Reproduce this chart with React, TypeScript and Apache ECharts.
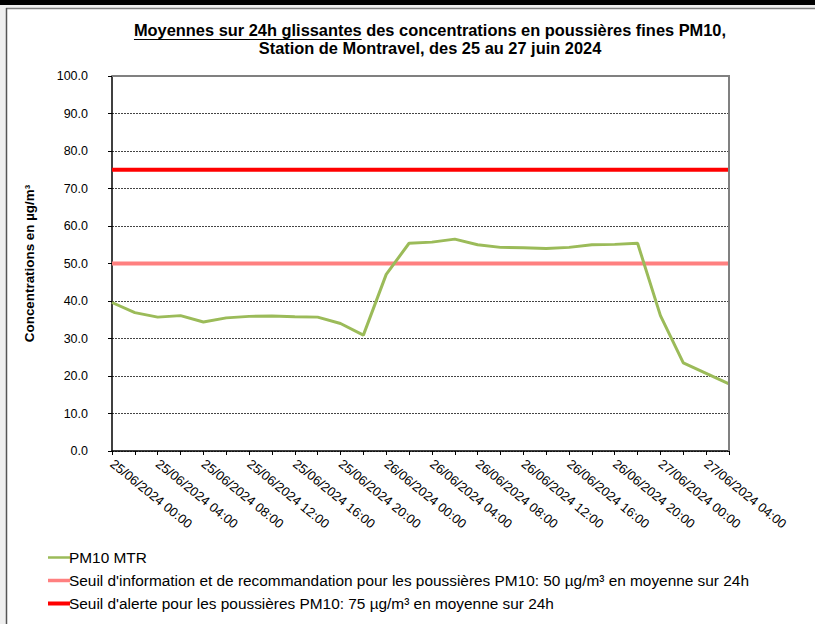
import React, { useEffect, useRef } from "react";
import * as echarts from "echarts";

const categories: string[] = [
  "25/06/2024 00:00", "25/06/2024 02:00", "25/06/2024 04:00", "25/06/2024 06:00",
  "25/06/2024 08:00", "25/06/2024 10:00", "25/06/2024 12:00", "25/06/2024 14:00",
  "25/06/2024 16:00", "25/06/2024 18:00", "25/06/2024 20:00", "25/06/2024 22:00",
  "26/06/2024 00:00", "26/06/2024 02:00", "26/06/2024 04:00", "26/06/2024 06:00",
  "26/06/2024 08:00", "26/06/2024 10:00", "26/06/2024 12:00", "26/06/2024 14:00",
  "26/06/2024 16:00", "26/06/2024 18:00", "26/06/2024 20:00", "26/06/2024 22:00",
  "27/06/2024 00:00", "27/06/2024 02:00", "27/06/2024 04:00", "27/06/2024 06:00",
];

const pm10: number[] = [
  39.6, 36.9, 35.7, 36.1, 34.4, 35.5, 35.9, 36.0, 35.8, 35.7, 34.0, 30.9,
  47.1, 55.4, 55.7, 56.5, 55.0, 54.3, 54.2, 54.0, 54.3, 55.0, 55.1, 55.4,
  36.1, 23.5, 20.7, 17.9,
];

const infoThreshold = 50;
const alertThreshold = 75;

const names = [
  "PM10 MTR",
  "Seuil d'information et de recommandation pour les poussières PM10: 50 µg/m³ en moyenne sur 24h",
  "Seuil d'alerte pour les poussières PM10: 75 µg/m³ en moyenne sur 24h",
];

const titleLine1 = "Moyennes sur 24h glissantes des concentrations en poussières fines PM10,";
const titleUnderlined = "Moyennes sur 24h glissantes";
const titleLine2 = "Station de Montravel, des 25 au 27 juin 2024";
const yAxisTitle = "Concentrations en µg/m³";

const FONT = '"Liberation Sans", Arial, sans-serif';

function measure(text: string, font: string): number {
  const c = document.createElement("canvas").getContext("2d");
  if (!c) return text.length * 8;
  c.font = font;
  return c.measureText(text).width;
}

export default function App() {
  const ref = useRef<HTMLDivElement>(null);
  useEffect(() => {
    if (!ref.current) return;
    const chart = echarts.init(ref.current, null, { renderer: "svg" });
    const titleSize = 16.4;
    const tFont = `bold ${titleSize}px ${FONT}`;
    const w1 = measure(titleLine1, tFont);
    const wu = measure(titleUnderlined, tFont);
    const cx = 430;
    const ulStart = cx - w1 / 2;

    const option: echarts.EChartsOption = {
      animation: false,
      backgroundColor: "#ffffff",
      textStyle: { fontFamily: FONT },
      grid: { left: 112, right: 86, top: 76, bottom: 173, containLabel: false },
      graphic: [
        { type: "rect", shape: { x: 0, y: 0, width: 815, height: 5 }, style: { fill: "#000" }, silent: true },
        { type: "rect", shape: { x: 0, y: 5, width: 815, height: 3 }, style: { fill: "#efefef" }, silent: true },
        { type: "rect", shape: { x: 0, y: 5, width: 6, height: 619 }, style: { fill: "#efefef" }, silent: true },
        { type: "line", shape: { x1: 6, y1: 8.5, x2: 815, y2: 8.5 }, style: { stroke: "#7f7f7f", lineWidth: 1.5 }, silent: true },
        { type: "line", shape: { x1: 6.5, y1: 8, x2: 6.5, y2: 624 }, style: { stroke: "#555", lineWidth: 1.5 }, silent: true },
        {
          type: "text", x: cx, y: 30,
          style: { text: titleLine1, font: tFont, fill: "#000", align: "center", verticalAlign: "middle" },
        },
        {
          type: "text", x: cx, y: 47.5,
          style: { text: titleLine2, font: tFont, fill: "#000", align: "center", verticalAlign: "middle" },
        },
        {
          type: "line", shape: { x1: ulStart, y1: 39.5, x2: ulStart + wu, y2: 39.5 },
          style: { stroke: "#000", lineWidth: 1.2 },
        },
        { type: "line", shape: { x1: 112, y1: 76, x2: 729, y2: 76 }, style: { stroke: "#808080", lineWidth: 2 }, z: 10, silent: true },
        { type: "line", shape: { x1: 729, y1: 75, x2: 729, y2: 451 }, style: { stroke: "#808080", lineWidth: 2 }, z: 10, silent: true },
      ],
      legend: {
        orient: "vertical",
        left: 43,
        top: 545,
        itemGap: 8,
        itemWidth: 22,
        itemHeight: 16,
        textStyle: { fontSize: 15.4, color: "#000", fontFamily: FONT, padding: [0, 0, 0, -6] },
        data: [
          { name: names[0], icon: "path://M0,7 L22,7 L22,9.5 L0,9.5 Z" },
          { name: names[1], icon: "path://M0,6.5 L22,6.5 L22,10 L0,10 Z" },
          { name: names[2], icon: "path://M0,6 L22,6 L22,10 L0,10 Z" },
        ],
      },
      xAxis: {
        type: "category",
        data: categories,
        boundaryGap: false,
        axisLine: { lineStyle: { color: "#000", width: 1.5 } },
        axisTick: { show: true, interval: 0, length: 4, lineStyle: { color: "#000" } },
        axisLabel: {
          interval: 1,
          rotate: -39,
          fontSize: 13,
          color: "#000",
          fontFamily: FONT,
          margin: 11,
        },
        splitLine: { show: false },
      },
      yAxis: {
        type: "value",
        min: 0,
        max: 100,
        interval: 10,
        name: yAxisTitle,
        nameLocation: "middle",
        nameGap: 76,
        nameRotate: 90,
        nameTextStyle: { fontSize: 13.4, fontWeight: "bold", color: "#000", fontFamily: FONT },
        axisLine: { show: true, lineStyle: { color: "#000", width: 1.5 } },
        axisTick: { show: true, length: 4, lineStyle: { color: "#000" } },
        axisLabel: {
          fontSize: 12.5,
          color: "#000",
          fontFamily: FONT,
          margin: 24,
          formatter: (v: number) => v.toFixed(1),
        },
        splitLine: { show: true, lineStyle: { color: "#444", type: [2, 1], width: 1 } },
      },
      series: [
        {
          name: names[1],
          type: "line",
          data: categories.map(() => infoThreshold),
          symbol: "none",
          lineStyle: { color: "#FF8080", width: 4 },
          itemStyle: { color: "#FF8080" },
          z: 3,
        },
        {
          name: names[2],
          type: "line",
          data: categories.map(() => alertThreshold),
          symbol: "none",
          lineStyle: { color: "#FF0000", width: 4 },
          itemStyle: { color: "#FF0000" },
          z: 3,
        },
        {
          name: names[0],
          type: "line",
          data: pm10,
          symbol: "none",
          lineStyle: { color: "#9BBB59", width: 3 },
          itemStyle: { color: "#9BBB59" },
          z: 4,
        },
      ],
    };
    chart.setOption(option);
    return () => chart.dispose();
  }, []);
  return (
    <div
      ref={ref}
      style={{ position: "absolute", left: 0, top: 0, width: 815, height: 624 }}
    />
  );
}
